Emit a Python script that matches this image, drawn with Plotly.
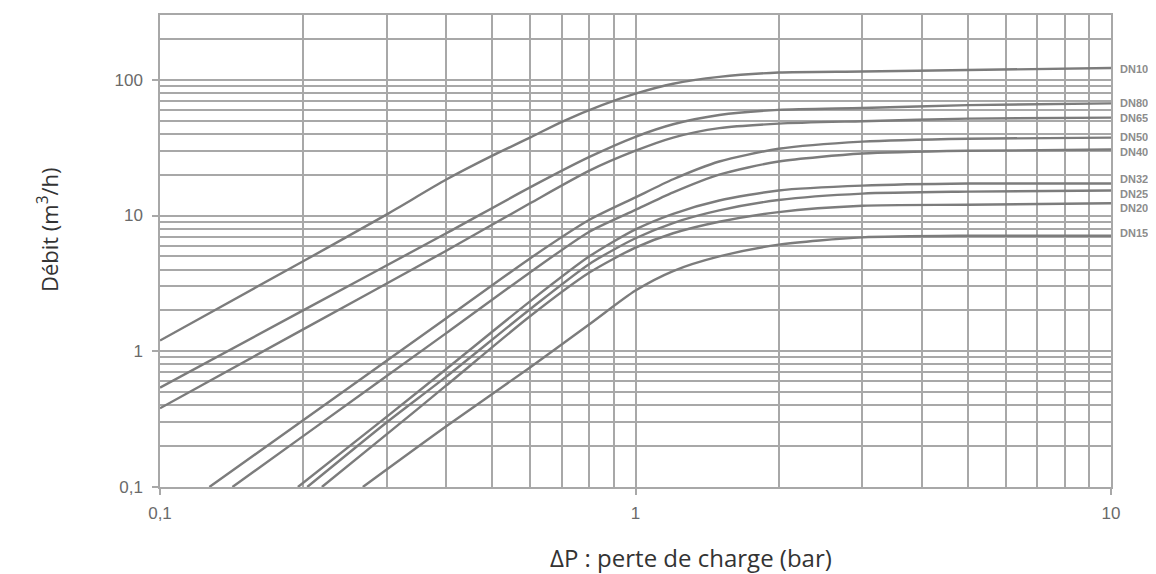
import math
import plotly.graph_objects as go

# ---- data (ΔP in bar, flow in m3/h) ----
names = ["DN100", "DN80", "DN65", "DN50", "DN40", "DN32", "DN25", "DN20", "DN15"]

dn100_x = [0.1, 0.2, 0.3, 0.4, 0.5, 0.6, 0.7, 0.85, 1.0, 1.2, 1.5, 2.0, 3.0, 5.0, 10.0]
dn100_y = [1.2, 4.6, 10.2, 18.4, 27.6, 37.5, 49, 65, 79, 93.5, 105, 113, 115, 118, 122]

dn80_x = [0.1, 0.2, 0.4, 0.6, 0.8, 1.0, 1.2, 1.5, 2.0, 3.0, 5.0, 10.0]
dn80_y = [0.54, 2.0, 7.4, 16.1, 27, 38, 47, 55, 60, 62, 65, 67]

dn65_x = [0.1, 0.2, 0.4, 0.6, 0.8, 1.0, 1.2, 1.5, 2.0, 3.0, 5.0, 10.0]
dn65_y = [0.38, 1.45, 5.5, 12.3, 21.4, 30, 37.5, 44, 47.5, 49.5, 51.7, 52.6]

dn50_x = [0.127, 0.2, 0.4, 0.6, 0.8, 1.0, 1.2, 1.5, 2.0, 3.0, 5.0, 10.0]
dn50_y = [0.1, 0.31, 1.75, 4.83, 9.3, 13.6, 18.5, 25, 31, 35, 36.8, 37.5]

dn40_x = [0.142, 0.2, 0.4, 0.6, 0.8, 1.0, 1.2, 1.5, 2.0, 3.0, 5.0, 10.0]
dn40_y = [0.1, 0.237, 1.36, 3.81, 7.6, 11.0, 14.8, 20, 25, 28.6, 30, 30.6]

dn32_x = [0.195, 0.3, 0.4, 0.6, 0.8, 1.0, 1.2, 1.5, 2.0, 3.0, 5.0, 10.0]
dn32_y = [0.1, 0.33, 0.74, 2.33, 5.0, 7.9, 10.3, 12.9, 15.3, 16.6, 17.2, 17.2]

dn25_x = [0.204, 0.3, 0.4, 0.6, 0.8, 1.0, 1.2, 1.5, 2.0, 3.0, 5.0, 10.0]
dn25_y = [0.1, 0.30, 0.65, 2.04, 4.4, 6.8, 8.8, 10.9, 13.0, 14.5, 15, 15.3]

dn20_x = [0.219, 0.3, 0.4, 0.6, 0.8, 1.0, 1.2, 1.5, 2.0, 3.0, 5.0, 10.0]
dn20_y = [0.1, 0.245, 0.56, 1.81, 3.8, 5.8, 7.4, 9.0, 10.6, 11.8, 12.0, 12.3]

dn15_x = [0.267, 0.4, 0.6, 0.8, 1.0, 1.2, 1.5, 2.0, 3.0, 5.0, 10.0]
dn15_y = [0.1, 0.28, 0.76, 1.58, 2.8, 3.9, 5.0, 6.1, 6.9, 7.1, 7.1]

series_x = [dn100_x, dn80_x, dn65_x, dn50_x, dn40_x, dn32_x, dn25_x, dn20_x, dn15_x]
series_y = [dn100_y, dn80_y, dn65_y, dn50_y, dn40_y, dn32_y, dn25_y, dn20_y, dn15_y]

x_ticks = [0.1, 1, 10]
x_ticktext = ["0,1", "1", "10"]
x_minor = [0.2, 0.3, 0.4, 0.5, 0.6, 0.7, 0.8, 0.9, 2, 3, 4, 5, 6, 7, 8, 9]
y_ticks = [0.1, 1, 10, 100]
y_ticktext = ["0,1", "1", "10", "100"]
y_minor = [0.2, 0.3, 0.4, 0.5, 0.6, 0.7, 0.8, 0.9,
           2, 3, 4, 5, 6, 7, 8, 9,
           20, 30, 40, 50, 60, 70, 80, 90, 200]

# label vertical nudges (pixels) so labels sit like in the reference
label_shift = [-1, 0, 0, 1, -2, 5, -4, -5, 3]

GRID = "#a8a8a8"
CURVE = "#7c7c7c"
TICKTXT = "#6a6a6a"

fig = go.Figure()
for n, xs, ys in zip(names, series_x, series_y):
    fig.add_trace(go.Scatter(
        x=xs, y=ys, mode="lines", name=n,
        line=dict(color=CURVE, width=2.4, shape="spline", smoothing=0.7),
        hoverinfo="x+y+name", showlegend=False))

# curve-end labels (annotation y on a log axis is given in log10 units)
for n, ys, sh in zip(names, series_y, label_shift):
    fig.add_annotation(x=1, xref="paper", y=math.log10(ys[-1]), yref="y",
                       yanchor="middle", text="<b>%s</b>" % n, showarrow=False,
                       xanchor="left", xshift=7, yshift=sh,
                       font=dict(family="Liberation Sans", size=11, color="#8c8c8c"))

fig.add_annotation(x=0.558, xref="paper", y=-0.150, yref="paper",
                   text="ΔP : perte de charge (bar)", showarrow=False,
                   xanchor="center", yanchor="middle",
                   font=dict(family="Open Sans", size=24, color="#333333"))
fig.add_annotation(x=-0.118, xref="paper", y=0.546, yref="paper",
                   text="Débit (m<sup>3</sup>/h)", showarrow=False, textangle=-90,
                   xanchor="center", yanchor="middle",
                   font=dict(family="Open Sans", size=22, color="#333333"))

axis_common = dict(type="log", showgrid=True, gridcolor=GRID, gridwidth=1.5,
                   showline=True, linecolor=GRID, linewidth=1.5, mirror=True,
                   ticks="outside", ticklen=6, tickcolor=GRID, tickwidth=1.5,
                   zeroline=False,
                   tickfont=dict(family="Liberation Sans", size=17, color=TICKTXT))

fig.update_xaxes(range=[-1, 1], tickmode="array", tickvals=x_ticks, ticktext=x_ticktext,
                 minor=dict(tickmode="array", tickvals=x_minor, showgrid=True,
                            gridcolor=GRID, gridwidth=1.5, ticks=""),
                 ticklabelstandoff=4,
                 **axis_common)
fig.update_yaxes(range=[-1, 2.4771], tickmode="array", tickvals=y_ticks, ticktext=y_ticktext,
                 minor=dict(tickmode="array", tickvals=y_minor, showgrid=True,
                            gridcolor=GRID, gridwidth=1.5, ticks=""),
                 ticklabelstandoff=6,
                 **axis_common)

# the page body adds an 8 px margin, so the figure is 8 px smaller each way
fig.update_layout(width=1148, height=566,
                  margin=dict(l=152, r=45, t=5, b=87),
                  paper_bgcolor="white", plot_bgcolor="white",
                  separators=", ", showlegend=False)

fig.write_html("out.html")
